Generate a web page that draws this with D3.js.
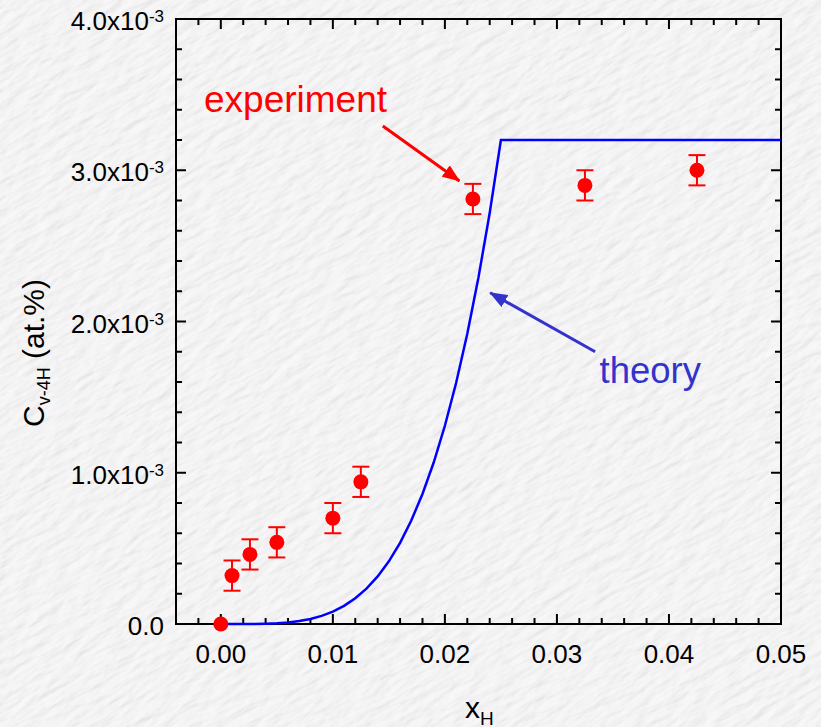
<!DOCTYPE html>
<html>
<head>
<meta charset="utf-8">
<script src="https://cdn.jsdelivr.net/npm/d3@7"></script>
<style>
  html, body { margin: 0; padding: 0; background: #e7e5e7; }
  svg { display: block; font-family: "Liberation Sans", Arial, Helvetica, sans-serif; }
</style>
</head>
<body>
<svg id="chart" width="821" height="727"></svg>
<script>
// Measured vacancy-4H complex concentration (units of 1e-3 at.%) vs hydrogen fraction
const expX   = [0.000, 0.001, 0.0026, 0.005, 0.010, 0.0125, 0.0225, 0.0325, 0.0425];
const expY   = [0.00, 0.32, 0.46, 0.54, 0.70, 0.94, 2.81, 2.90, 3.00];
const expErr = [0.00, 0.10, 0.10, 0.10, 0.10, 0.10, 0.10, 0.10, 0.10];

// Theoretical curve (units of 1e-3 at.%)
const theoryX = [0.000, 0.001, 0.002, 0.003, 0.004, 0.005, 0.006, 0.007, 0.008, 0.009,
                 0.010, 0.011, 0.012, 0.013, 0.014, 0.015, 0.016, 0.017, 0.018, 0.019,
                 0.020, 0.021, 0.022, 0.023, 0.024, 0.025, 0.050];
const theoryY = [0.0000, 0.0000, 0.0001, 0.0007, 0.0021, 0.0051, 0.0106, 0.0197, 0.0336, 0.0537,
                 0.0819, 0.1199, 0.1699, 0.2340, 0.3147, 0.4147, 0.5369, 0.6842, 0.8600, 1.0676,
                 1.3107, 1.5932, 1.9190, 2.2925, 2.7179, 3.2000, 3.2000];

// Axis ticks
const xTickValues = [0.00, 0.01, 0.02, 0.03, 0.04, 0.05];
const xTickLabels = ["0.00", "0.01", "0.02", "0.03", "0.04", "0.05"];
const yTickValues = [0, 1, 2, 3, 4];
const yTickMantissa = ["0.0", "1.0", "2.0", "3.0", "4.0"];

(function draw() {
  const svg = d3.select("#chart");
  const W = 821, H = 727;
  const pl = 176, pr = 781, pt = 19, pb = 624;

  // Textured paper background
  const defs = svg.append("defs");
  const tex = defs.append("filter").attr("id", "paper")
    .attr("x", 0).attr("y", 0).attr("width", "100%").attr("height", "100%");
  tex.append("feTurbulence").attr("type", "fractalNoise")
    .attr("baseFrequency", "0.04 0.13").attr("numOctaves", 3).attr("seed", 7).attr("result", "noise");
  tex.append("feDiffuseLighting").attr("in", "noise").attr("surfaceScale", 2.2)
    .attr("diffuseConstant", 1.0).attr("lighting-color", "#ffffff").attr("result", "lit")
    .append("feDistantLight").attr("azimuth", 225).attr("elevation", 55);
  tex.append("feColorMatrix").attr("in", "lit").attr("type", "matrix")
    .attr("values", "0.30 0 0 0 0.66  0 0.30 0 0 0.65  0 0 0.30 0 0.66  0 0 0 0 1");

  const bgG = svg.append("g").attr("transform", `rotate(-28 ${W / 2} ${H / 2})`);
  bgG.append("rect").attr("x", -300).attr("y", -300).attr("width", W + 600).attr("height", H + 600)
    .attr("filter", "url(#paper)");

  const x = d3.scaleLinear().domain([-0.004, 0.05]).range([pl, pr]);
  const y = d3.scaleLinear().domain([0, 4]).range([pb, pt]);

  // Arrow heads
  function arrowMarker(id, color) {
    defs.append("marker").attr("id", id)
      .attr("viewBox", "0 0 18 14").attr("refX", 17).attr("refY", 7)
      .attr("markerUnits", "userSpaceOnUse").attr("markerWidth", 18).attr("markerHeight", 14)
      .attr("orient", "auto")
      .append("path").attr("d", "M0,0 L18,7 L0,14 Z").attr("fill", color);
  }
  arrowMarker("arrRed", "#ff0000");
  arrowMarker("arrBlue", "#3333cc");

  // Minor / major ticks on all four sides, pointing inward
  const xMinor = d3.range(-0.002, 0.0499, 0.002).filter(v => !xTickValues.some(t => Math.abs(t - v) < 1e-9));
  const yMinor = d3.range(0.2, 3.99, 0.2).filter(v => !yTickValues.some(t => Math.abs(t - v) < 1e-9));
  const majorLen = 10, minorLen = 6;

  const axisG = svg.append("g").attr("stroke", "#000").attr("stroke-width", 2);
  function xTicks(vals, len) {
    vals.forEach(v => {
      axisG.append("line").attr("x1", x(v)).attr("x2", x(v)).attr("y1", pb).attr("y2", pb - len);
      axisG.append("line").attr("x1", x(v)).attr("x2", x(v)).attr("y1", pt).attr("y2", pt + len);
    });
  }
  function yTicks(vals, len) {
    vals.forEach(v => {
      axisG.append("line").attr("y1", y(v)).attr("y2", y(v)).attr("x1", pl).attr("x2", pl + len);
      axisG.append("line").attr("y1", y(v)).attr("y2", y(v)).attr("x1", pr).attr("x2", pr - len);
    });
  }
  xTicks(xMinor, minorLen);
  xTicks(xTickValues.filter(v => v < 0.0499), majorLen);
  yTicks(yMinor, minorLen);
  yTicks(yTickValues.filter(v => v > 0 && v < 4), majorLen);

  axisG.append("rect").attr("x", pl).attr("y", pt).attr("width", pr - pl).attr("height", pb - pt)
    .attr("fill", "none");

  // Tick labels
  const lab = svg.append("g").attr("fill", "#000").attr("font-size", 26);
  xTickValues.forEach((v, i) => {
    lab.append("text").attr("x", x(v)).attr("y", pb + 39).attr("text-anchor", "middle").text(xTickLabels[i]);
  });
  yTickValues.forEach((v, i) => {
    const t = lab.append("text").attr("x", pl - 12).attr("y", y(v) + 11).attr("text-anchor", "end");
    if (v === 0) {
      t.text(yTickMantissa[i]);
    } else {
      t.append("tspan").text(yTickMantissa[i] + "x10");
      t.append("tspan").attr("dy", -8).attr("font-size", 17).text("-3");
    }
  });

  // Axis titles
  const yTitle = svg.append("text").attr("transform", "translate(44,427) rotate(-90)")
    .attr("text-anchor", "start").attr("font-size", 30).attr("fill", "#000");
  yTitle.append("tspan").text("C");
  yTitle.append("tspan").attr("font-size", 18).attr("dy", 6).text("v-4H");
  yTitle.append("tspan").attr("dy", -6).text(" (at.%)");

  const xTitle = svg.append("text").attr("x", 465).attr("y", 718).attr("font-size", 30).attr("fill", "#000");
  xTitle.append("tspan").text("x");
  xTitle.append("tspan").attr("font-size", 19).attr("dy", 7).text("H");

  // Theory line
  const theory = theoryX.map((v, i) => [v, theoryY[i]]);
  svg.append("path").datum(theory)
    .attr("fill", "none").attr("stroke", "#0000ff").attr("stroke-width", 2.5)
    .attr("d", d3.line().x(d => x(d[0])).y(d => y(d[1])));

  // Experimental points with error bars
  const exp = expX.map((v, i) => ({ x: v, y: expY[i], e: expErr[i] }));
  const eg = svg.append("g").attr("stroke", "#ff0000").attr("stroke-width", 2);
  exp.filter(d => d.e > 0).forEach(d => {
    const cx = x(d.x);
    eg.append("line").attr("x1", cx).attr("x2", cx).attr("y1", y(d.y - d.e)).attr("y2", y(d.y + d.e));
    eg.append("line").attr("x1", cx - 8.5).attr("x2", cx + 8.5).attr("y1", y(d.y - d.e)).attr("y2", y(d.y - d.e));
    eg.append("line").attr("x1", cx - 8.5).attr("x2", cx + 8.5).attr("y1", y(d.y + d.e)).attr("y2", y(d.y + d.e));
  });
  svg.append("g").selectAll("circle").data(exp).join("circle")
    .attr("cx", d => x(d.x)).attr("cy", d => y(d.y)).attr("r", 7.5).attr("fill", "#ff0000");

  // Annotations
  svg.append("text").attr("x", x(-0.0015)).attr("y", y(3.387)).attr("font-size", 37)
    .attr("fill", "#ff0000").text("experiment");
  svg.append("line")
    .attr("x1", x(0.01446)).attr("y1", y(3.293)).attr("x2", x(0.0213)).attr("y2", y(2.929))
    .attr("stroke", "#ff0000").attr("stroke-width", 3).attr("marker-end", "url(#arrRed)");

  svg.append("text").attr("x", x(0.0338)).attr("y", y(1.591)).attr("font-size", 36.5)
    .attr("fill", "#3333cc").text("theory");
  svg.append("line")
    .attr("x1", x(0.03341)).attr("y1", y(1.80)).attr("x2", x(0.02404)).attr("y2", y(2.19))
    .attr("stroke", "#3333cc").attr("stroke-width", 3).attr("marker-end", "url(#arrBlue)");
})();
</script>
</body>
</html>
